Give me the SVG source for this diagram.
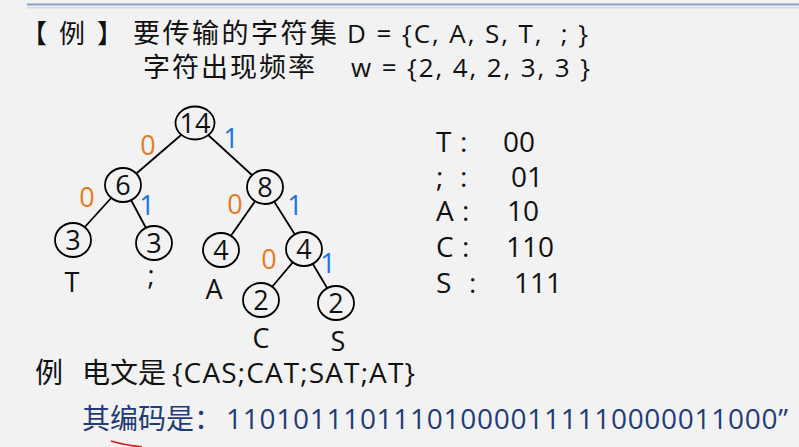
<svg xmlns="http://www.w3.org/2000/svg" width="799" height="447" viewBox="0 0 799 447">
<style>
text{font-family:"Open Sans","Noto Sans CJK SC",sans-serif;fill:#111;white-space:pre}
.cj{font-family:"Noto Sans CJK SC",sans-serif}
.nd ellipse{fill:#f2f2f2;stroke:#000;stroke-width:1.8}
.nd text{font-size:27px;text-anchor:middle}
.e line{stroke:#000;stroke-width:1.8}
.z{fill:#e87a1e;font-size:27px;text-anchor:middle}
.o{fill:#1a73e8;font-size:27px;text-anchor:middle}
.lf{font-size:27px;text-anchor:middle}
.cd text{font-size:28px}
.bl{fill:#1f3c78}
</style>
<rect width="799" height="447" fill="#f2f2f2"/>
<line x1="27" y1="4.5" x2="799" y2="4.5" stroke="#8aa0c8" stroke-width="2.2"/>
<line x1="27" y1="7.8" x2="799" y2="7.8" stroke="#c4d0e4" stroke-width="1"/>

<g id="header">
<text class="cj" x="21" y="43" font-size="26">【</text>
<text class="cj" x="59" y="43" font-size="26">例</text>
<text class="cj" x="97" y="43" font-size="26">】</text>
<text class="cj" x="133" y="43" font-size="27" letter-spacing="2.5">要传输的字符集</text>
<text x="347" y="43" font-size="26" textLength="241" lengthAdjust="spacing">D = {C, A, S, T,  ; }</text>
<text class="cj" x="143" y="77" font-size="27" letter-spacing="2">字符出现频率</text>
<text x="351" y="77" font-size="26" textLength="239" lengthAdjust="spacing">w = {2, 4, 2, 3, 3 }</text>
</g>

<g id="connectors" class="e">
<line x1="195" y1="123" x2="123" y2="185"/>
<line x1="195" y1="123" x2="265" y2="187"/>
<line x1="123" y1="185" x2="73" y2="240"/>
<line x1="123" y1="185" x2="154" y2="243"/>
<line x1="265" y1="187" x2="221" y2="250"/>
<line x1="265" y1="187" x2="304" y2="249"/>
<line x1="304" y1="249" x2="261" y2="300"/>
<line x1="304" y1="249" x2="336" y2="303"/>
</g>

<g id="n14" class="nd"><ellipse cx="195" cy="123" rx="19.5" ry="16.5"/><text x="195" y="133">14</text></g>
<g id="n6" class="nd"><ellipse cx="123" cy="185" rx="18" ry="17"/><text x="123" y="195">6</text></g>
<g id="n8" class="nd"><ellipse cx="265" cy="187" rx="18" ry="17"/><text x="265" y="197">8</text></g>
<g id="n3T" class="nd"><ellipse cx="73" cy="240" rx="18" ry="17"/><text x="73" y="250">3</text></g>
<g id="n3s" class="nd"><ellipse cx="154" cy="243" rx="18" ry="17"/><text x="154" y="253">3</text></g>
<g id="n4A" class="nd"><ellipse cx="221" cy="250" rx="18" ry="17"/><text x="221" y="260">4</text></g>
<g id="n4" class="nd"><ellipse cx="304" cy="249" rx="18" ry="17"/><text x="304" y="259">4</text></g>
<g id="n2C" class="nd"><ellipse cx="261" cy="300" rx="18" ry="17"/><text x="261" y="310">2</text></g>
<g id="n2S" class="nd"><ellipse cx="336" cy="303" rx="18" ry="17"/><text x="336" y="313">2</text></g>

<g id="edge-labels">
<text class="z" x="148" y="155">0</text>
<text class="o" x="231" y="148">1</text>
<text class="z" x="87" y="207">0</text>
<text class="o" x="147" y="215">1</text>
<text class="z" x="235" y="214">0</text>
<text class="o" x="295" y="215">1</text>
<text class="z" x="269" y="269">0</text>
<text class="o" x="328" y="273">1</text>
</g>

<g id="leaf-labels">
<text class="lf" x="72" y="292">T</text>
<text class="lf" x="151" y="285">;</text>
<text class="lf" x="214" y="299">A</text>
<text class="lf" x="261" y="348">C</text>
<text class="lf" x="338" y="351">S</text>
</g>

<g id="codes" class="cd">
<text x="436" y="152">T</text><text x="460" y="152">:</text><text x="503" y="152">00</text>
<text x="436" y="187">;</text><text x="460" y="187">:</text><text x="511" y="187">01</text>
<text x="436" y="221">A</text><text x="462" y="221">:</text><text x="507" y="221">10</text>
<text x="436" y="257">C</text><text x="462" y="257">:</text><text x="506" y="257">110</text>
<text x="436" y="293">S</text><text x="469" y="293">:</text><text x="514" y="293">111</text>
</g>

<g id="message">
<text class="cj" x="35" y="383" font-size="28">例</text>
<text class="cj" x="82" y="383" font-size="28">电文是</text>
<text x="172" y="383" font-size="28" textLength="243" lengthAdjust="spacing">{CAS;CAT;SAT;AT}</text>
<text class="cj bl" x="82" y="429" font-size="28">其编码是：</text>
<text class="bl" x="226" y="429" font-size="28" textLength="562" lengthAdjust="spacing">110101110111010000111110000011000”</text>
</g>
<path d="M111 441 Q124 445 142 447" fill="none" stroke="#d42020" stroke-width="1.8"/>
</svg>
